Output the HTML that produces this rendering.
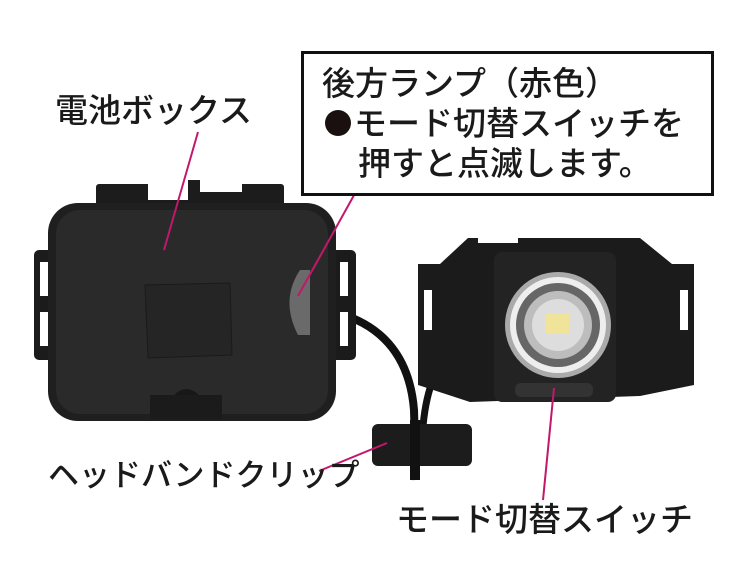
<!DOCTYPE html>
<html><head><meta charset="utf-8"><style>
html,body{margin:0;padding:0;background:#fff;width:750px;height:569px;overflow:hidden}
.t{position:absolute;font-family:"Liberation Sans","Noto Sans CJK JP",sans-serif;color:#1a1a1a;white-space:nowrap;font-size:33px;line-height:33px;font-weight:500}
</style></head><body>
<svg width="750" height="569" style="position:absolute;left:0;top:0">
<path d="M334 312 C385 325 410 360 414 410 L416 480" stroke="#111" stroke-width="8" fill="none"/>
<path d="M452 350 C432 370 424 400 422 440" stroke="#111" stroke-width="7" fill="none"/>
<rect x="34" y="250" width="22" height="110" rx="5" fill="#1b1b1b"/>
<rect x="40" y="262" width="8" height="34" fill="#fff"/><rect x="40" y="312" width="8" height="34" fill="#fff"/>
<rect x="328" y="250" width="28" height="110" rx="5" fill="#1b1b1b"/>
<rect x="340" y="262" width="8" height="34" fill="#fff"/><rect x="340" y="312" width="8" height="34" fill="#fff"/>
<rect x="96" y="184" width="188" height="24" rx="3" fill="#1c1c1c"/>
<rect x="148" y="180" width="40" height="20" fill="#fff"/><rect x="200" y="180" width="42" height="12" fill="#fff"/><rect x="188" y="180" width="12" height="14" fill="#1c1c1c"/>
<rect x="48" y="203" width="288" height="218" rx="30" fill="#1f1f1f"/>
<rect x="56" y="210" width="272" height="204" rx="24" fill="#2a2a2a"/>
<path d="M145 285 L230 283 L232 355 L148 358 Z" fill="#252525" stroke="#1a1a1a"/>
<path d="M300 270 Q280 300 298 335 L310 335 L310 270 Z" fill="#6a6a6a"/>
<path d="M160 418 Q185 360 215 418 Z" fill="#181818"/>
<rect x="150" y="395" width="72" height="24" fill="#1b1b1b"/>
<path d="M440 264 L468 238 L640 238 L672 264 L694 264 L694 385 L640 396 L470 402 L418 385 L418 264 Z" fill="#1b1b1b"/>
<rect x="424" y="290" width="8" height="40" fill="#fff"/>
<rect x="680" y="290" width="8" height="40" fill="#fff"/>
<rect x="478" y="237" width="40" height="6" fill="#fff"/>
<rect x="494" y="252" width="122" height="150" rx="8" fill="#232323"/>
<circle cx="558" cy="325" r="53" fill="#aaa"/>
<circle cx="558" cy="325" r="48" fill="#eee"/>
<circle cx="558" cy="325" r="42" fill="#666"/>
<circle cx="558" cy="325" r="34" fill="#bdbdbd"/>
<circle cx="558" cy="325" r="26" fill="#ddd"/>
<rect x="545" y="314" width="24" height="20" fill="#f0e39a"/>
<rect x="515" y="383" width="78" height="14" rx="6" fill="#333"/>
<rect x="372" y="424" width="100" height="42" rx="6" fill="#1c1c1c"/>
<rect x="410" y="420" width="10" height="60" fill="#111"/>
<g stroke="#c2186b" stroke-width="2">
<line x1="198" y1="132" x2="164" y2="250"/>
<line x1="363" y1="179" x2="298" y2="296"/>
<line x1="319" y1="471" x2="387" y2="443"/>
<line x1="554" y1="388" x2="543" y2="500"/>
</g>
<rect x="302.5" y="52.5" width="410" height="142" fill="#fff" stroke="#111" stroke-width="3"/>
<circle cx="338" cy="123" r="13" fill="#1a1010"/>
</svg>
<div class="t" style="left:55px;top:94px">電池ボックス</div>
<div class="t" style="left:322px;top:67px">後方ランプ（赤色）</div>
<div class="t" style="left:354px;top:107px">モード切替スイッチを</div>
<div class="t" style="left:358px;top:147px">押すと点滅します。</div>
<div class="t" style="left:48px;top:459px;font-size:31px">ヘッドバンドクリップ</div>
<div class="t" style="left:396px;top:503px">モード切替スイッチ</div>
</body></html>
